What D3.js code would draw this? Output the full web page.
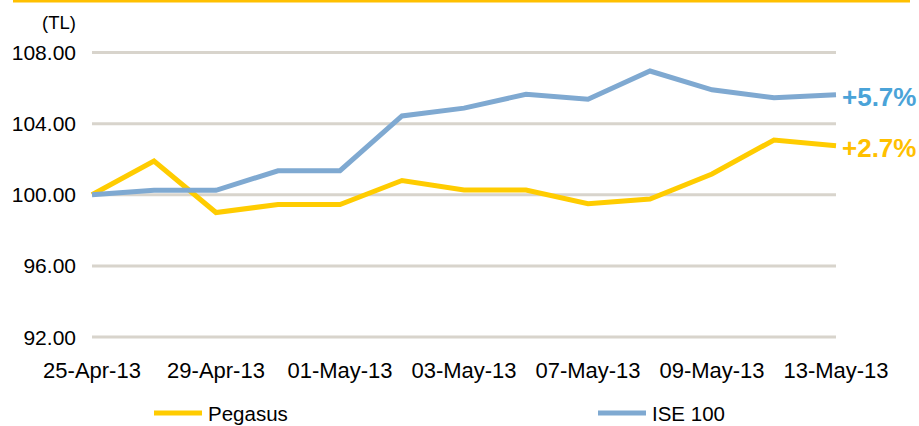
<!DOCTYPE html>
<html>
<head>
<meta charset="utf-8">
<script src="https://cdn.jsdelivr.net/npm/d3@7"></script>
<style>
body { margin: 0; background: #fff; }
svg text { font-family: "Liberation Sans", Arial, sans-serif; fill: #000; }
</style>
</head>
<body>
<div id="chart"></div>
<script>
// trading days shown on the x axis
var dates = ["25-Apr-13", "26-Apr-13", "29-Apr-13", "30-Apr-13", "01-May-13", "02-May-13",
	"03-May-13", "06-May-13", "07-May-13", "08-May-13", "09-May-13", "10-May-13", "13-May-13"];
var tickDates = ["25-Apr-13", "29-Apr-13", "01-May-13", "03-May-13", "07-May-13", "09-May-13", "13-May-13"];
var yTicks = [92, 96, 100, 104, 108];

var pegasus = [100.0, 101.9, 99.0, 99.45, 99.45, 100.8, 100.27, 100.27, 99.5, 99.76, 101.17, 103.08, 102.76];
var ise100 = [100.0, 100.25, 100.25, 101.35, 101.35, 104.43, 104.87, 105.65, 105.37, 106.96, 105.9, 105.46, 105.62];

var seriesNames = ["Pegasus", "ISE 100"];
var endLabels = ["+2.7%", "+5.7%"];

var width = 919, height = 426;
var svg = d3.select("#chart").append("svg").attr("width", width).attr("height", height);

// top rule
svg.append("rect").attr("x", 13).attr("y", 0).attr("width", 897).attr("height", 2.5).attr("fill", "#FFC000");

var x = d3.scalePoint().domain(dates).range([92, 836]);
var y = d3.scaleLinear().domain([92, 108]).range([337, 52.5]);

// gridlines
svg.append("g").selectAll("line").data(yTicks).enter().append("line")
	.attr("x1", 92).attr("x2", 836)
	.attr("y1", function(d){ return y(d); }).attr("y2", function(d){ return y(d); })
	.attr("stroke", "#D8D4CC").attr("stroke-width", 3);

// y axis labels
svg.append("g").selectAll("text").data(yTicks).enter().append("text")
	.attr("x", 76).attr("y", function(d){ return y(d); }).attr("dy", "0.36em")
	.attr("text-anchor", "end").attr("font-size", 21)
	.text(function(d){ return d.toFixed(2); });

svg.append("text").attr("x", 76).attr("y", 22).attr("dy", "0.36em")
	.attr("text-anchor", "end").attr("font-size", 18.5).text("(TL)");

// x axis labels
svg.append("g").selectAll("text").data(tickDates).enter().append("text")
	.attr("x", function(d){ return x(d); }).attr("y", 378)
	.attr("text-anchor", "middle").attr("font-size", 22)
	.text(function(d){ return d; });

var line = d3.line().x(function(d, i){ return x(dates[i]); }).y(function(d){ return y(d); });

var series = [
	{ name: seriesNames[0], values: pegasus, color: "#FFCC00", labelColor: "#FFC000", label: endLabels[0] },
	{ name: seriesNames[1], values: ise100, color: "#7FA9D1", labelColor: "#4AA3D8", label: endLabels[1] }
];

series.forEach(function(s){
	svg.append("path").datum(s.values).attr("d", line)
		.attr("fill", "none").attr("stroke", s.color).attr("stroke-width", 5)
		.attr("stroke-linejoin", "miter");
});

// end-of-line percentage labels
series.forEach(function(s){
	svg.append("text").attr("x", 842).attr("y", y(s.values[s.values.length - 1]) + 2).attr("dy", "0.36em")
		.attr("font-size", 26).attr("font-weight", "bold")
		.style("fill", s.labelColor).text(s.label);
});

// legend
var legendX = [154, 598];
series.forEach(function(s, i){
	svg.append("line").attr("x1", legendX[i]).attr("x2", legendX[i] + 48)
		.attr("y1", 413).attr("y2", 413).attr("stroke", s.color).attr("stroke-width", 5);
	svg.append("text").attr("x", legendX[i] + 54).attr("y", 420.5)
		.attr("font-size", 20.5).text(s.name);
});
</script>
</body>
</html>
